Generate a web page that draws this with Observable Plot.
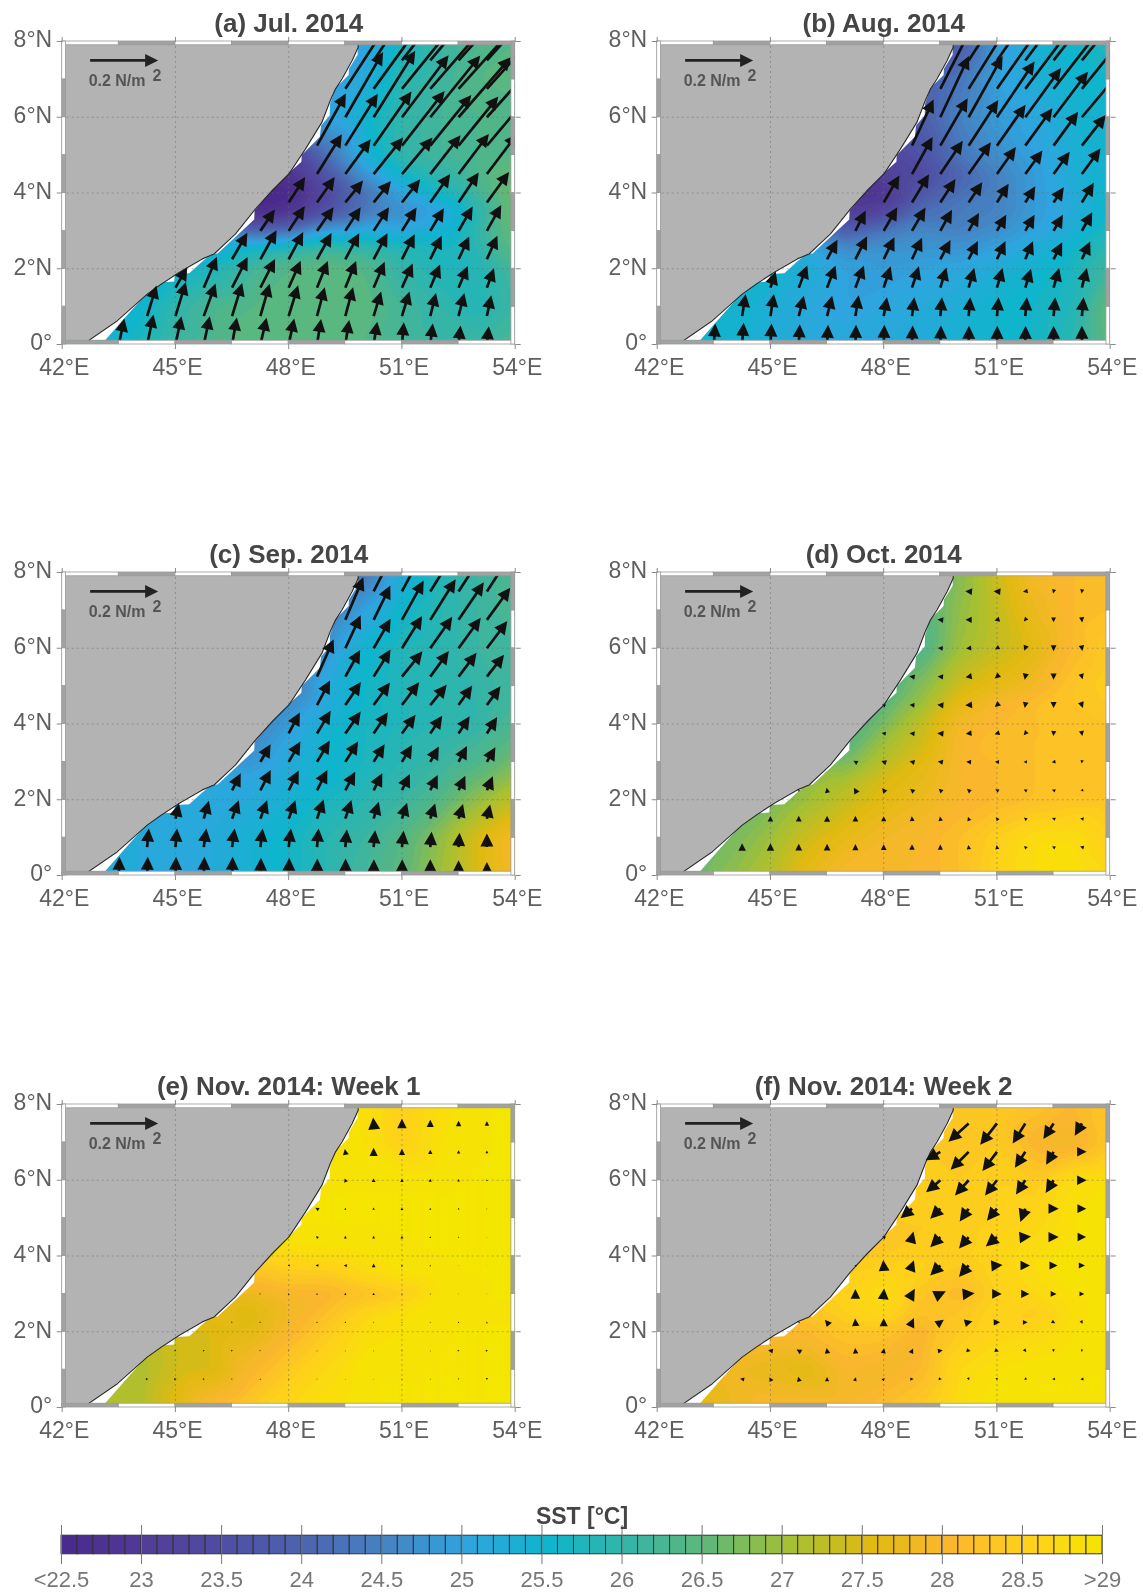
<!DOCTYPE html>
<html><head><meta charset="utf-8">
<script src="https://cdn.jsdelivr.net/npm/d3@7"></script>
<script src="https://cdn.jsdelivr.net/npm/@observablehq/plot@0.6"></script>
<style>
html,body{margin:0;padding:0;background:#fff}
#page{position:relative;width:1143px;height:1594px;overflow:hidden;background:#fff;filter:blur(0.45px)}
svg{font-family:"Liberation Sans",Arial,sans-serif;overflow:visible;background:transparent}
</style></head><body><div id="page"></div>
<script>
// SST grid: rows of latitude, each row ends at 54°E and steps 1° westward
const sstLats = [0,1,2,2.5,3,3.5,4,4.5,5,6,7,8];
const sstA = [
[25.4,25.7,26.1,26.3,26.5,26.5,26.4,26.4,26.2,26.1,26.1,26.3],
[25.2,25.5,26.0,26.3,26.4,26.5,26.5,26.5,26.2,26.0,25.8,26.1],
[25.5,25.8,26.2,26.4,26.5,26.4,26.0,25.8,25.8,26.2],
[25.2,25.7,26.0,26.2,26.1,25.9,25.7,25.9,26.5],
[24.8,24.0,24.2,25.0,25.2,25.1,25.4,26.0,26.6],
[22.6,22.8,23.6,24.3,24.7,25.0,25.9,26.7],
[22.5,22.5,23.3,24.2,25.0,25.7,26.2,26.7],
[22.8,23.7,24.8,25.6,26.0,26.3,26.6],
[23.0,24.2,25.3,26.0,26.2,26.3,26.4],
[24.5,25.0,25.5,26.0,26.2,26.3,26.3],
[25.0,25.2,25.9,26.1,26.4,26.5],
[25.0,25.0,25.7,26.1,26.3,26.4]];
const sstB = [
[25.5,25.5,25.3,25.2,25.2,25.2,25.3,25.4,25.5,25.6,25.9,26.5],
[25.5,25.5,25.3,25.1,25.0,25.1,25.2,25.3,25.5,25.6,25.8,26.6],
[25.5,25.3,25.0,24.9,25.0,25.1,25.3,25.5,25.7,26.2],
[25.1,24.7,24.8,24.8,24.8,25.0,25.3,25.6,26.0],
[24.5,23.9,24.3,24.6,24.5,24.7,25.0,25.3,25.8],
[23.0,23.3,24.2,24.4,24.5,24.9,25.2,25.6],
[22.9,22.8,23.7,24.2,24.5,24.9,25.2,25.6],
[23.1,23.4,24.0,24.5,24.9,25.3,25.5],
[23.3,23.6,24.3,24.7,25.0,25.3,25.5],
[23.7,23.9,24.5,24.9,25.1,25.4,25.5],
[24.0,24.3,25.0,25.3,25.5,25.6],
[23.8,23.8,24.9,25.4,25.6,25.8]];
const sstC = [
[25.3,25.2,25.1,25.2,25.4,25.6,25.9,26.2,26.5,27.0,27.5,27.9],
[25.3,25.2,25.1,25.2,25.4,25.6,25.9,26.1,26.4,26.9,27.5,28.0],
[25.2,25.1,25.2,25.4,25.7,25.9,26.1,26.4,26.9,27.3],
[25.1,25.1,25.3,25.5,25.8,26.0,26.2,26.6,27.0],
[24.8,24.8,25.2,25.5,25.7,25.9,26.1,26.3,26.7],
[24.6,25.1,25.5,25.7,25.9,26.0,26.2,26.5],
[24.5,24.9,25.4,25.7,25.8,25.9,26.0,26.3],
[24.7,25.2,25.6,25.8,25.9,26.0,26.2],
[24.3,25.2,25.6,25.8,25.9,26.0,26.2],
[24.3,24.8,25.5,25.8,25.9,26.1,26.2],
[24.4,25.0,25.6,25.9,26.1,26.3],
[24.3,24.3,25.3,25.8,26.1,26.3]];
const sstD = [
[26.6,26.9,27.2,27.7,28.0,28.0,28.0,28.2,28.6,28.8,28.9,28.7],
[26.5,26.7,27.0,27.4,27.7,27.9,28.0,28.2,28.5,28.8,28.8,28.5],
[26.7,27.0,27.3,27.6,27.8,28.0,28.1,28.2,28.3,28.3],
[26.9,27.1,27.5,27.7,28.0,28.1,28.2,28.3,28.2],
[26.7,26.7,27.2,27.6,28.0,28.1,28.2,28.3,28.3],
[26.4,27.0,27.4,28.0,28.2,28.2,28.3,28.3],
[26.4,26.7,27.3,27.9,28.1,28.2,28.2,28.3],
[26.5,27.0,27.7,28.0,28.2,28.3,28.4],
[26.3,26.8,27.4,27.7,27.9,28.3,28.5],
[26.2,26.3,27.0,27.3,27.6,28.1,28.4],
[26.4,26.9,27.3,27.8,28.1,28.2],
[26.8,26.8,27.4,28.0,28.1,28.2]];
const sstE = [
[27.2,27.1,27.6,28.1,28.4,28.7,28.9,29.0,29.0,29.0,29.0,29.0],
[27.1,27.1,27.4,27.5,28.0,28.4,28.7,29.0,29.0,29.0,29.0,29.0],
[27.4,27.5,27.6,28.0,28.4,28.8,28.9,29.0,29.0,29.0],
[27.7,27.5,27.9,28.2,28.6,28.9,29.0,29.0,29.0],
[27.7,27.8,28.0,28.0,28.2,28.4,28.9,29.0,29.0],
[28.2,28.4,28.4,28.7,28.9,29.0,29.0,29.0],
[28.7,28.7,28.8,28.9,29.0,29.0,29.0,29.0],
[29.0,29.0,29.0,29.0,29.0,29.0,29.0],
[29.0,29.0,29.0,29.0,29.0,29.0,29.0],
[29.0,29.0,29.0,29.0,29.0,29.0,29.0],
[29.0,28.9,28.5,28.9,29.0,29.0],
[28.9,28.9,28.5,28.8,29.0,29.0]];
const sstF = [
[27.5,27.8,28.0,28.0,28.0,28.2,28.4,28.8,29.0,29.0,29.0,29.0],
[27.8,27.8,27.7,27.6,28.0,27.9,28.1,28.7,28.9,29.0,29.0,29.0],
[28.1,28.1,28.3,28.3,28.0,28.4,28.6,28.7,28.9,29.0],
[28.3,28.5,28.7,28.2,28.3,28.6,28.4,28.8,29.0],
[28.4,28.6,28.8,28.3,28.1,28.5,28.7,28.9,29.0],
[28.5,28.6,28.5,28.3,28.6,28.8,29.0,29.0],
[28.4,28.4,28.5,28.5,28.6,28.8,29.0,29.0],
[28.3,28.4,28.4,28.6,28.7,28.9,29.0],
[28.4,28.4,28.4,28.5,28.6,28.9,29.0],
[28.5,28.5,28.4,28.5,28.4,28.8,28.9],
[28.4,28.3,28.4,28.0,27.9,28.3],
[28.4,28.4,28.4,28.3,28.1,28.3]];

// Wind stress in 10^-3 N/m^2 and direction (degrees clockwise from north);
// rows at 0, 0.75 ... 7.5°N, each row ends at 53.25°E and steps 0.75° westward
const vecLats = [0,0.75,1.5,2.25,3,3.75,4.5,5.25,6,6.75,7.5];
const stressA = [
[78,90,85,85,81,81,78,76,73,68,66,62,56,54],
[94,105,102,102,99,95,88,88,76,76,70,70,63],
[69,99,101,95,87,85,85,83,78,74,69,61],
[90,98,91,88,87,87,83,77,74,76],
[76,87,85,83,83,81,78,83,87],
[89,91,83,81,87,102,106,111],
[138,127,138,140,145,148,148],
[175,180,194,204,192,186,186],
[222,231,228,234,234,239],
[205,215,225,235,240,245],
[230,240,245,250,250]];
const dirA = [
[12,12,12,12,10,13,12,9,9,9,5,7,6,6],
[17,17,20,17,16,17,15,15,17,17,14,14,12],
[30,23,27,27,24,22,22,23,24,23,23,20],
[30,29,28,29,28,28,27,26,25,24],
[34,33,35,33,33,32,31,30,29],
[33,35,39,39,38,35,34,36],
[32,36,39,40,38,37,37],
[29,32,35,38,39,39,40],
[30,32,37,39,41,42],
[33,36,39,41,42,42],
[34,38,40,42,42]];
const stressB = [
[62,64,62,60,58,58,58,56,56,55,55,55,55,55],
[66,66,62,62,62,56,56,56,56,56,56,56,56],
[50,70,70,70,66,66,62,60,60,58,60,60],
[65,76,72,70,64,60,59,58,56,58],
[67,80,79,71,61,55,55,55,63],
[92,97,82,72,65,56,54,68],
[125,118,114,97,86,81,93],
[150,161,160,147,136,123,114],
[199,206,198,179,168,170],
[200,215,220,220,220,220],
[210,215,220,225,225]];
const dirB = [
[4,4,3,3,3,2,2,2,2,1,1,1,0,0],
[9,9,14,14,9,10,7,5,5,5,5,5,5],
[18,21,21,21,18,18,17,16,16,17,16,14],
[28,27,26,25,28,27,25,23,27,25],
[27,30,30,29,30,30,30,30,29],
[30,31,33,34,32,32,34,31],
[29,34,35,35,36,36,36],
[25,30,33,35,36,36,38],
[25,29,34,36,37,40],
[27,32,35,37,38,39],
[33,35,37,38,39]];
const stressC = [
[55,55,55,55,55,52,52,50,50,48,48,48,45,40],
[55,55,55,55,55,55,55,52,50,48,45,42,40],
[46,55,58,58,58,60,58,52,49,47,45,43],
[56,67,65,67,62,56,53,50,47,45],
[60,69,73,71,61,58,52,53,50],
[70,78,79,75,68,63,60,57],
[82,82,82,84,77,70,68],
[120,90,94,96,93,88,82],
[107,100,112,113,111,100],
[136,112,132,141,133,117],
[130,140,145,145,145]];
const dirC = [
[2,2,2,2,2,2,2,1,1,1,1,0,0,0],
[5,5,8,8,7,7,5,5,5,6,5,4,0],
[13,16,20,20,20,19,18,17,18,18,17,13],
[27,27,27,27,28,27,26,26,25,23],
[30,30,31,32,32,31,29,28,30],
[28,31,35,34,36,34,33,32],
[28,34,36,37,39,35,36],
[24,29,32,39,36,37,38],
[25,30,32,35,36,37],
[23,26,29,32,34,36],
[27,28,32,33,33]];
const stressD = [
[10,13,11,6,5,3],
[22,22,20,20,18,17,16,15,13,12,10,10,11],
[16,17,18,17,15,14,13,12,11,10,10,10],
[6,15,18,15,14,13,13,11,10,10,8],
[13,15,15,15,14,12,10,11,10],
[12,15,18,17,15,14,15,15],
[10,14,18,20,17,17,18,18],
[16,16,18,17,18,18,16],
[14,15,14,16,17,16],
[17,18,15,13,14,15],
[20,20,14,12,12]];
const dirD = [
[0,0,0,0,0,0],
[0,0,0,0,0,0,0,0,-5,-10,-45,-60,-75],
[0,0,0,0,0,-5,-10,-20,-40,-50,-70,-80],
[-30,-10,-30,-40,-50,-50,-50,-60,-65,-70,-100],
[-60,-70,-75,-80,-85,-85,-90,-100,-170],
[-80,-85,-85,-95,-110,-140,-175,170],
[-60,-85,-85,-95,-130,-170,-180,160],
[-80,-85,-100,-130,-170,180,165],
[-85,-95,-120,-160,180,170],
[-85,-90,-105,-140,180,175],
[-85,-85,-100,-165,-170]];
const stressE = [
[],
[7,7,5,4,4,3,3,2,2,3,3,4,6],
[5,5,5,4,3,3,3,3,3,3,5,6],
[4,4,4,4,4,3,3,3,4,5],
[4,5,5,6,7,4,3,2,2],
[6,8,9,11,6,4,2,2],
[8,8,8,8,5,4,2],
[11,6,7,8,6,5,3],
[11,11,10,9,7,5],
[17,24,18,13,10,8],
[35,28,21,16,13]];
const dirE = [
[],
[90,90,90,90,0,0,0,0,0,0,0,180,180],
[90,90,90,90,0,0,0,0,0,0,90,90],
[90,90,0,0,0,0,0,0,0,0],
[90,0,0,0,0,0,0,0,0],
[-90,-90,-80,0,0,0,0,0],
[-45,0,0,0,0,0,0],
[-60,0,0,0,0,0,0],
[-20,0,0,0,0,0],
[-10,0,0,0,0,0],
[-5,0,0,0,0]];
const stressF = [
[],
[12,13,14,12,11,9,10,9,8,7,8,8,9],
[14,15,16,16,15,15,14,12,12,10,8,7],
[5,20,22,24,27,25,23,19,14,11,10],
[28,32,34,36,35,28,24,17,14],
[6,32,33,42,44,33,28,24,18],
[10,34,42,44,43,34,30,25],
[44,42,46,46,42,30,26],
[55,60,57,50,44,28],
[50,75,71,56,44,28],
[80,80,70,55,42]];
const dirF = [
[],
[-80,-30,-15,0,20,40,90,100,160,170,-120,-100,-95],
[-80,-60,-10,-5,10,25,80,100,110,140,170,180],
[-60,-40,-5,0,25,55,75,88,90,120,150],
[0,5,30,65,85,90,90,90,90],
[-80,-5,20,-135,-140,85,90,90,90],
[-60,15,-135,-140,-130,85,90,90],
[-130,-135,-145,-140,-160,90,90],
[-130,-138,-142,-147,-148,90],
[-120,-135,-143,-147,-150,90],
[-132,-142,-148,-147,-150]];

// Coastline and the edge of the SST data (°E, °N)
const coastLon = [42.69,43.46,44.25,44.69,45.09,45.71,46.02,46.59,47.12,47.56,48.0,48.44,48.88,49.1,49.24,49.41,49.68,49.84,49.84];
const coastLat = [0.1,0.63,1.33,1.64,1.90,2.26,2.39,2.92,3.58,4.06,4.50,5.16,5.87,6.44,6.75,7.01,7.50,7.85,7.9];
const edgeLon = [43.15,43.68,44.2,44.62,44.72,44.98,45.0,45.38,45.7,45.97,46.13,47.1,47.11,47.56,48.0,48.35,48.36,48.84,48.87,49.1,49.11,49.25,49.6,49.61,49.84,49.84];
const edgeLat = [0.1,0.7,1.28,1.61,1.63,1.65,1.85,1.87,2.16,2.38,2.39,3.29,3.52,4.06,4.5,4.81,4.99,5.47,5.77,6.03,6.34,6.75,7.1,7.27,7.64,7.9];

const lonTicks = [42,45,48,51,54];
const latTicks = [0,2,4,6,8];
const panelTitles = ["(a) Jul. 2014","(b) Aug. 2014","(c) Sep. 2014","(d) Oct. 2014","(e) Nov. 2014: Week 1","(f) Nov. 2014: Week 2"];
const panelSst = [sstA,sstB,sstC,sstD,sstE,sstF];
const panelStress = [stressA,stressB,stressC,stressD,stressE,stressF];
const panelDir = [dirA,dirB,dirC,dirD,dirE,dirF];

// Colour bar
const colorStops = [22.5,23,23.5,24,24.5,25,25.5,26,26.5,27,27.5,28,28.5,29];
const colorValues = ["#4a2a8c","#523d97","#4f4fa3","#4c66b0","#4585c4","#2fa5df","#0fb5cc","#36b5a6","#62b777","#a6c034","#e0ba10","#fab72e","#fed21a","#f5e600"];
const barTicks = [22.5,23,23.5,24,24.5,25,25.5,26,26.5,27,27.5,28,28.5,29];
const barLabels = ["<22.5","23","23.5","24","24.5","25","25.5","26","26.5","27","27.5","28","28.5",">29"];
const barCells = d3.range(65).map(i => 22.5 + i / 10);

const color = {type:"linear", domain:colorStops, range:colorValues, clamp:true};
const thresholds = d3.range(22, 29.05, 0.1);
const lonSegments = d3.range(8).map(i => 42 + i * 1.5);
const latSegments = d3.range(8);

const arrowShape = {draw(c, l) {
  const H = 13, S = 1.35;
  if (l <= H) {
    // short stress: the arrow is only a head, centred on its grid point
    const w = l * 0.5;
    c.moveTo(0, -l / 2); c.lineTo(w, l / 2); c.lineTo(-w, l / 2); c.closePath();
  } else {
    const w = H * 0.5;
    c.moveTo(0, -l); c.lineTo(w, H - l); c.lineTo(S, H - l); c.lineTo(S, 0);
    c.lineTo(-S, 0); c.lineTo(-S, H - l); c.lineTo(-w, H - l); c.closePath();
  }
}};

function panelPlot(k) {
  const sst = panelSst[k].flatMap((row, j) => row.map((v, i) => ({lon: 54 - (row.length - 1 - i), lat: sstLats[j], sst: v})));
  const vec = panelStress[k].flatMap((row, j) => row.map((v, i) => ({
    lon: 53.25 - 0.75 * (row.length - 1 - i), lat: vecLats[j], stress: v, dir: panelDir[k][j][i]})));
  const coast = coastLon.map((lon, i) => ({lon, lat: coastLat[i]}));
  const edge = edgeLon.map((lon, i) => ({lon, lat: edgeLat[i]}));
  const seg = "#a2a2a2";
  const hSeg = (y1, y2, first) => lonSegments.map((x, i) => ({x1: x, x2: x + 1.5, y1, y2, fill: i % 2 === first ? "#fff" : seg}));
  const vSeg = (x1, x2, first) => latSegments.map((y, i) => ({x1, x2, y1: y, y2: y + 1, fill: i % 2 === first ? "#fff" : seg}));
  const bands = [...hSeg(7.9, 8, 0), ...hSeg(0, 0.1, 1), ...vSeg(42, 42.1, 1), ...vSeg(53.9, 54, 0)];
  const lab = "#5f5f5f";
  return Plot.plot({
    width: 548, height: 384, marginLeft: 61.7, marginRight: 33.3, marginTop: 41, marginBottom: 40,
    x: {domain: [42, 54]}, y: {domain: [0, 8]},
    color, length: {type: "linear", domain: [0, 200], range: [0, 68]},
    style: {background: "transparent", fontFamily: "Liberation Sans"},
    marks: [
      Plot.contour(sst, {x: "lon", y: "lat", fill: "sst", interpolate: "barycentric", thresholds, blur: 3, pixelSize: 1.5, clip: "frame"}),
      Plot.areaX(edge, {y: "lat", x1: 42, x2: "lon", fill: "#fff"}),
      Plot.areaX(coast, {y: "lat", x1: 42, x2: "lon", fill: "#b3b3b3"}),
      Plot.line(coast, {x: "lon", y: "lat", stroke: "#2a2a2a", strokeWidth: 1.2}),
      Plot.gridX(lonTicks.slice(1, -1), {stroke: "#6a6a6a", strokeOpacity: 0.5, strokeDasharray: "2,3"}),
      Plot.gridY(latTicks.slice(1, -1), {stroke: "#6a6a6a", strokeOpacity: 0.5, strokeDasharray: "2,3"}),
      Plot.vector(vec, {x: "lon", y: "lat", length: "stress", rotate: "dir", anchor: "start", shape: arrowShape, fill: "#111", stroke: "none", clip: "frame"}),
      Plot.vector([200], {x: [42.74], y: [7.5], length: d => d, rotate: 90, anchor: "start", shape: arrowShape, fill: "#222", stroke: "none"}),
      Plot.text(["0.2 N/m"], {x: [42.7], y: [6.96], textAnchor: "start", fontSize: 16, fontWeight: "bold", fill: "#555"}),
      Plot.text(["2"], {x: [44.39], y: [7.1], textAnchor: "start", fontSize: 16, fontWeight: "bold", fill: "#555"}),
      Plot.rect(bands, {x1: "x1", x2: "x2", y1: "y1", y2: "y2", fill: "fill", stroke: "#9a9a9a", strokeWidth: 0.8}),
      Plot.axisX({ticks: lonTicks, anchor: "bottom", tickSize: 5, fill: "none", stroke: "#8a8a8a", label: null}),
      Plot.axisX({ticks: lonTicks, anchor: "top", tickSize: 5, fill: "none", stroke: "#8a8a8a", label: null}),
      Plot.axisY({ticks: latTicks, anchor: "left", tickSize: 5, fill: "none", stroke: "#8a8a8a", label: null}),
      Plot.axisY({ticks: latTicks, anchor: "right", tickSize: 5, fill: "none", stroke: "#8a8a8a", label: null}),
      Plot.axisX({ticks: lonTicks, anchor: "bottom", tickSize: 0, tickPadding: 14, dx: 2, fontSize: 23, fill: lab, label: null, tickFormat: d => `${d}°E`}),
      Plot.axisY({ticks: latTicks, anchor: "left", tickSize: 0, tickPadding: 10, dy: -1.5, fontSize: 23, fill: lab, label: null, tickFormat: d => d === 0 ? "0°" : `${d}°N`}),
      Plot.text([panelTitles[k]], {frameAnchor: "top", lineAnchor: "middle", dy: -18, fontSize: 26, fontWeight: "bold", fill: "#454545"})
    ]
  });
}

const page = document.getElementById("page");
const rowTop = [0, 530.7, 1063];
const colLeft = [0, 595];
for (let k = 0; k < 6; k++) {
  const node = panelPlot(k);
  node.style.position = "absolute";
  node.style.left = colLeft[k % 2] + "px";
  node.style.top = rowTop[Math.floor(k / 2)] + "px";
  page.appendChild(node);
}

const bar = Plot.plot({
  width: 1143, height: 94, marginLeft: 61, marginRight: 41, marginTop: 25, marginBottom: 30,
  x: {domain: [22.5, 29]}, y: {domain: [-0.55, 1.55], axis: null},
  color,
  style: {background: "transparent", fontFamily: "Liberation Sans"},
  marks: [
    Plot.rect(barCells, {x1: d => d, x2: d => d + 0.1, y1: 0, y2: 1, fill: d => d, stroke: "#333", strokeWidth: 1}),
    Plot.ruleX(barTicks, {stroke: "#777", strokeWidth: 1}),
    Plot.axisX({ticks: barTicks, anchor: "bottom", tickSize: 0, tickPadding: 7, fontSize: 22, fill: "#777", label: null, tickFormat: d => barLabels[barTicks.indexOf(d)]}),
    Plot.text(["SST [°C]"], {frameAnchor: "top", lineAnchor: "middle", dy: -9, fontSize: 23, fontWeight: "bold", fill: "#454545"})
  ]
});
bar.style.position = "absolute";
bar.style.left = "0px";
bar.style.top = "1500px";
page.appendChild(bar);
</script></body></html>
